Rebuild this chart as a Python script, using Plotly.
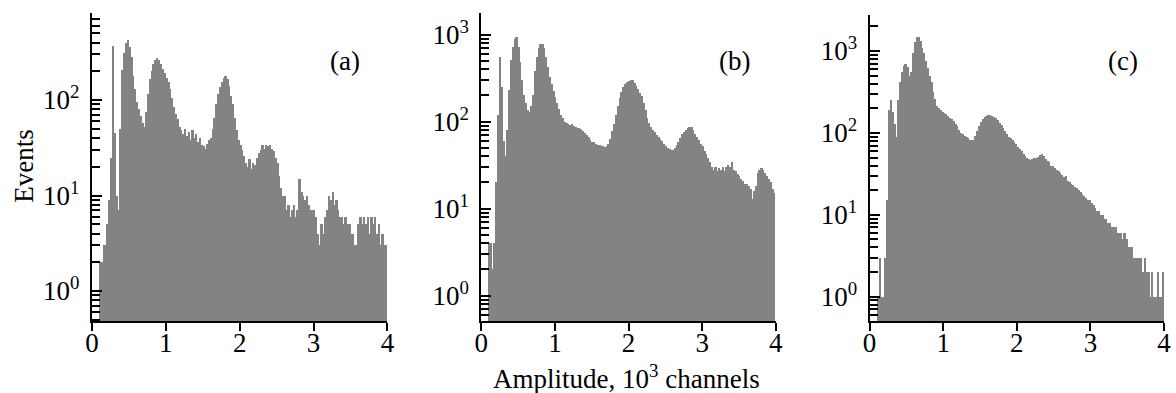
import plotly.graph_objects as go

# ---------------- data ----------------
bin_width = 0.025          # 10^3 channels per bin
n_bins = 160
bin_centers = [round(bin_width * (i + 0.5), 4) for i in range(n_bins)]

counts_a = [
    0, 0, 0, 0, 2, 2, 3, 3,
    5, 9, 25, 370, 45, 10, 7, 50,
    205, 310, 400, 425, 360, 285, 180, 130,
    95, 80, 68, 58, 52, 75, 115, 165,
    200, 240, 262, 275, 262, 240, 210, 190,
    170, 155, 130, 105, 85, 72, 64, 52,
    48, 44, 50, 42, 46, 38, 48, 40,
    44, 36, 40, 34, 33, 31, 35, 38,
    40, 50, 65, 90, 115, 138, 155, 170,
    178, 165, 140, 110, 90, 65, 48, 38,
    34, 30, 26, 22, 20, 24, 19, 22,
    21, 25, 28, 30, 34, 31, 34, 33,
    34, 31, 29, 25, 22, 16, 12, 10,
    10, 7, 8, 6, 7, 8, 6, 7,
    15, 11, 10, 9, 10, 8, 7, 7,
    7, 6, 4, 3, 5, 4, 6, 7,
    10, 9, 11, 8, 9, 7, 6, 6,
    5, 6, 5, 5, 4, 4, 3, 3,
    5, 6, 5, 6, 5, 6, 4, 6,
    5, 6, 4, 5, 3, 4, 3, 3,
]

counts_b = [
    0, 0, 0, 0, 4, 4, 2, 4,
    20, 120, 560, 250, 60, 40, 80, 230,
    510, 720, 880, 950, 730, 480, 300, 200,
    165, 135, 130, 150, 200, 380, 560, 700,
    790, 780, 700, 560, 430, 330, 270, 225,
    190, 162, 140, 120, 110, 100, 96, 94,
    92, 94, 90, 88, 85, 84, 82, 78,
    74, 70, 66, 62, 59, 58, 55, 54,
    54, 52, 53, 51, 52, 56, 64, 78,
    95, 120, 150, 185, 220, 250, 270, 285,
    295, 300, 298, 280, 260, 240, 215, 195,
    165, 135, 110, 96, 86, 80, 76, 70,
    66, 63, 60, 56, 52, 50, 48, 47,
    47, 50, 54, 58, 65, 72, 76, 80,
    84, 88, 86, 80, 73, 66, 61, 56,
    52, 46, 42, 38, 34, 30, 28, 30,
    27, 29, 28, 30, 27, 30, 32, 30,
    34, 28, 27, 25, 24, 22, 21, 19,
    19, 18, 17, 13, 16, 18, 26, 28,
    29, 28, 26, 24, 22, 20, 17, 15,
]

counts_c = [
    0, 0, 0, 0, 1, 3, 1, 1,
    3, 15, 190, 250, 180, 130, 88, 250,
    420, 560, 660, 700, 640, 490, 560, 950,
    1300, 1500, 1480, 1320, 1100, 935, 760, 620,
    500, 420, 320, 260, 215, 200, 190, 182,
    176, 170, 160, 152, 146, 138, 130, 122,
    108, 100, 96, 92, 89, 86, 83, 82,
    82, 92, 105, 122, 135, 148, 156, 162,
    165, 166, 163, 158, 150, 142, 132, 125,
    115, 105, 98, 90, 86, 82, 78, 74,
    68, 64, 60, 56, 52, 50, 48, 47,
    48, 49, 50, 51, 53, 55, 52, 48,
    46, 44, 40, 39, 37, 35, 34, 32,
    31, 29, 30, 26, 25, 24, 23, 22,
    21, 20, 19, 18, 17, 16, 15, 15,
    14, 13, 12, 11, 11, 10, 10, 9,
    9, 8, 8, 7, 7, 7, 6, 6,
    6, 5, 6, 5, 4, 4, 4, 3,
    3, 3, 3, 3, 2, 3, 2, 2,
    1, 2, 1, 1, 2, 1, 1, 2,
]

x_tick_vals = [0, 1, 2, 3, 4]
x_tick_text = ["0", "1", "2", "3", "4"]
y_tick_vals = [1, 10, 100, 1000]
y_tick_text = ["10<sup>0</sup>", "10<sup>1</sup>", "10<sup>2</sup>", "10<sup>3</sup>"]
panel_labels = ["(a)", "(b)", "(c)"]
x_title = "Amplitude, 10<sup>3</sup> channels"
y_title = "Events"

# ---------------- layout geometry (pixels) ----------------
W, H = 1176, 393
panels = [
    dict(counts=counts_a, x0=86, x1=385, top=13, yr=[-0.314, 2.911], lab=(342, 61)),
    dict(counts=counts_b, x0=480, x1=778, top=13, yr=[-0.291, 3.249], lab=(736, 61)),
    dict(counts=counts_c, x0=873, x1=1171, top=15, yr=[-0.297, 3.44], lab=(1129, 61)),
]
bottom = 321

FONT = "Liberation Serif"
GRAY = "#838383"
TICK_SIZE = 27

fig = go.Figure()
layout = dict(
    width=W, height=H,
    margin=dict(l=0, r=0, t=0, b=0),
    paper_bgcolor="white", plot_bgcolor="white",
    showlegend=False, bargap=0,
    font=dict(family=FONT, size=TICK_SIZE, color="black"),
    annotations=[],
)

for i, p in enumerate(panels):
    sfx = "" if i == 0 else str(i + 1)
    xa, ya = "x" + sfx, "y" + sfx
    yvals = [v if v > 0 else None for v in p["counts"]]
    fig.add_trace(go.Bar(
        x=bin_centers, y=yvals, width=bin_width,
        marker=dict(color=GRAY, line=dict(width=0)),
        xaxis=xa, yaxis=ya, hoverinfo="skip",
    ))
    layout["xaxis" + sfx] = dict(
        domain=[p["x0"] / W, p["x1"] / W], anchor=ya,
        range=[0, 4], tickvals=x_tick_vals, ticktext=x_tick_text,
        ticks="outside", ticklen=8, tickwidth=2, tickcolor="black",
        ticklabelstandoff=-11,
        showline=True, linewidth=2, linecolor="black",
        showgrid=False, zeroline=False,
        tickfont=dict(family=FONT, size=TICK_SIZE),
    )
    layout["yaxis" + sfx] = dict(
        domain=[1 - bottom / H, 1 - p["top"] / H], anchor=xa,
        type="log", range=p["yr"],
        tickmode="array", tickvals=y_tick_vals, ticktext=y_tick_text,
        ticks="inside", ticklen=10, tickwidth=2, tickcolor="black",
        ticklabelstandoff=5,
        minor=dict(ticks="inside", ticklen=8, tickwidth=2, tickcolor="black",
                   dtick="D1", showgrid=False),
        showline=True, linewidth=2, linecolor="black",
        showgrid=False, zeroline=False,
        tickfont=dict(family=FONT, size=TICK_SIZE),
    )
    layout["annotations"].append(dict(
        text=panel_labels[i], x=p["lab"][0] / W, y=1 - p["lab"][1] / H,
        xref="paper", yref="paper", showarrow=False,
        font=dict(family=FONT, size=27), xanchor="center", yanchor="middle",
    ))

layout["annotations"].append(dict(
    text=x_title, x=627 / W, y=1 - 377 / H, xref="paper", yref="paper",
    showarrow=False, font=dict(family=FONT, size=27),
    xanchor="center", yanchor="middle",
))
layout["annotations"].append(dict(
    text=y_title, x=17 / W, y=1 - 166 / H, xref="paper", yref="paper",
    showarrow=False, textangle=-90, font=dict(family=FONT, size=27),
    xanchor="center", yanchor="middle",
))

fig.update_layout(**layout)
fig.write_html("out.html")
